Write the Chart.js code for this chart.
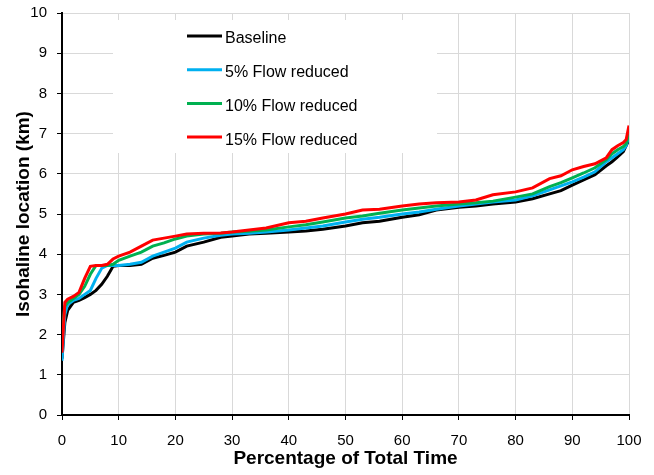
<!DOCTYPE html>
<html>
<head>
<meta charset="utf-8">
<script src="https://cdn.jsdelivr.net/npm/chart.js@4"></script>
<style>
  html, body { margin: 0; padding: 0; background: #fff; }
  #wrap { width: 654px; height: 475px; }
</style>
</head>
<body>
<div id="wrap"><canvas id="myChart" width="654" height="475"></canvas></div>
<script>
// percentage of total time (x) shared by all series
var timePct = [0, 0.5, 1, 2, 3, 4, 5, 6, 7, 8, 9, 10, 12, 14, 16, 18, 20, 22, 25, 28, 30, 33, 36, 40, 43, 46, 50, 53, 56, 60, 63, 66, 70, 73, 76, 80, 83, 86, 88, 90, 92, 94, 96, 97, 98, 99, 99.5, 100];

// isohaline location (km)
var baseline = [1.4, 2.3, 2.6, 2.8, 2.85, 2.92, 3.0, 3.1, 3.25, 3.45, 3.7, 3.72, 3.72, 3.75, 3.9, 3.97, 4.05, 4.2, 4.3, 4.42, 4.45, 4.5, 4.52, 4.55, 4.58, 4.62, 4.7, 4.78, 4.82, 4.92, 4.98, 5.1, 5.17, 5.2, 5.25, 5.3, 5.38, 5.5, 5.58, 5.72, 5.85, 5.98, 6.2, 6.3, 6.42, 6.55, 6.7, 6.85];
var flow5 = [1.35, 2.5, 2.75, 2.85, 2.9, 3.0, 3.1, 3.4, 3.65, 3.72, 3.72, 3.72, 3.75, 3.8, 3.95, 4.05, 4.15, 4.3, 4.4, 4.47, 4.5, 4.52, 4.55, 4.6, 4.65, 4.7, 4.8, 4.87, 4.92, 5.0, 5.05, 5.12, 5.2, 5.25, 5.3, 5.35, 5.45, 5.6, 5.7, 5.8, 5.92, 6.05, 6.3, 6.4, 6.5, 6.6, 6.7, 6.95];
var flow10 = [2.0, 2.7, 2.8, 2.9, 3.0, 3.2, 3.5, 3.72, 3.72, 3.72, 3.75, 3.85, 3.95, 4.05, 4.2, 4.28, 4.38, 4.45, 4.5, 4.52, 4.55, 4.57, 4.6, 4.68, 4.73, 4.8, 4.9, 4.95, 5.02, 5.1, 5.15, 5.2, 5.25, 5.28, 5.32, 5.42, 5.5, 5.68, 5.78, 5.9, 6.02, 6.15, 6.35, 6.5, 6.6, 6.68, 6.75, 7.0];
var flow15 = [1.55, 2.8, 2.88, 2.95, 3.05, 3.4, 3.7, 3.72, 3.72, 3.75, 3.88, 3.95, 4.05, 4.2, 4.35, 4.4, 4.45, 4.5, 4.52, 4.53, 4.55, 4.6, 4.65, 4.78, 4.82, 4.9, 5.0, 5.1, 5.12, 5.2, 5.25, 5.28, 5.3, 5.35, 5.48, 5.55, 5.65, 5.88, 5.95, 6.1, 6.18, 6.25, 6.4, 6.6, 6.7, 6.78, 6.85, 7.2];

var seriesNames = ['Baseline', '5% Flow reduced', '10% Flow reduced', '15% Flow reduced'];
var seriesColors = ['#000000', '#00B0F0', '#00B050', '#FF0000'];
var seriesValues = [baseline, flow5, flow10, flow15];

var FONT = '"Liberation Sans", Arial, sans-serif';

function toPoints(vals) {
  return vals.map(function (v, i) { return { x: timePct[i], y: v }; });
}

var datasets = seriesValues.map(function (vals, i) {
  return {
    label: seriesNames[i],
    data: toPoints(vals),
    borderColor: seriesColors[i],
    backgroundColor: seriesColors[i],
    borderWidth: 3,
    pointRadius: 0,
    tension: 0,
    order: 4 - i   // red drawn on top
  };
});

// white legend box sitting inside the plot, like the original
var boxLegend = {
  id: 'boxLegend',
  beforeDatasetsDraw: function (chart) {
    var c = chart.ctx;
    c.save();
    c.fillStyle = '#ffffff';
    c.fillRect(113, 20, 324, 133);
    c.font = '16px ' + FONT;
    c.textBaseline = 'alphabetic';
    c.textAlign = 'left';
    for (var i = 0; i < seriesNames.length; i++) {
      var y = 36 + i * 33.7;
      c.strokeStyle = seriesColors[i];
      c.lineWidth = 3;
      c.beginPath();
      c.moveTo(187, y);
      c.lineTo(222, y);
      c.stroke();
      c.fillStyle = '#000';
      c.fillText(seriesNames[i], 225, 42.7 + i * 34.1);
    }
    c.restore();
  }
};

var ctx = document.getElementById('myChart').getContext('2d');
var myChart = new Chart(ctx, {
  type: 'line',
  data: { datasets: datasets },
  options: {
    responsive: false,
    animation: false,
    layout: { padding: { top: 13, right: 25, left: 0, bottom: 0 } },
    plugins: {
      legend: { display: false },
      tooltip: { enabled: false }
    },
    scales: {
      x: {
        type: 'linear',
        min: 0,
        max: 100,
        ticks: {
          stepSize: 10,
          color: '#000',
          padding: 12,
          font: { family: FONT, size: 15 }
        },
        grid: { color: '#d9d9d9', lineWidth: 1, tickColor: '#000', tickLength: 5 },
        border: { color: '#000', width: 2 },
        title: {
          display: true,
          text: 'Percentage of Total Time',
          color: '#000',
          padding: { top: 0, bottom: 5 },
          font: { family: FONT, size: 19, weight: 'bold' }
        },
        afterFit: function (scale) {
          scale.height = 60;
          scale.paddingLeft = 0;
          scale.paddingRight = 0;
        }
      },
      y: {
        min: 0,
        max: 10,
        ticks: {
          stepSize: 1,
          color: '#000',
          padding: 10,
          font: { family: FONT, size: 15 }
        },
        grid: { color: '#d9d9d9', lineWidth: 1, tickColor: '#000', tickLength: 5 },
        border: { color: '#000', width: 2 },
        title: {
          display: true,
          text: 'Isohaline location (km)',
          color: '#000',
          padding: { top: 12, bottom: 0 },
          font: { family: FONT, size: 19, weight: 'bold' }
        },
        afterFit: function (scale) {
          scale.width = 62;
          scale.paddingTop = 0;
          scale.paddingBottom = 0;
        }
      }
    }
  },
  plugins: [boxLegend]
});
</script>
</body>
</html>
